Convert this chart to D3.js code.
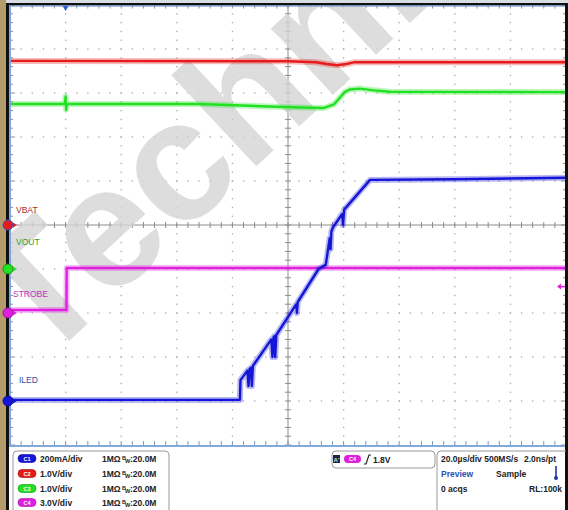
<!DOCTYPE html>
<html><head><meta charset="utf-8">
<script src="https://cdn.jsdelivr.net/npm/d3@7"></script>
<style>body{margin:0;background:#fff}svg{display:block}</style>
</head><body>
<svg id="c" width="568" height="510"></svg>
<script>
// ---------- DATA ----------
// time axis (µs), 20 µs/div, trigger at 0
const timeDomain = [-20, 180];
const divTicks = [-5, -4, -3, -2, -1, 0, 1, 2, 3, 4, 5];

// channel settings
const channelIds = ["C1", "C2", "C3", "C4"];
const channelLabels = ["ILED", "VBAT", "VOUT", "STROBE"];
const channelScaleText = ["200mA/div", "1.0V/div", "1.0V/div", "3.0V/div"];
const channelPerDiv = [200, 1, 1, 3];
const channelOffsetDiv = [-4, 0, -1, -2];
const channelImpedance = ["1MΩ", "1MΩ", "1MΩ", "1MΩ"];
const channelBandwidth = ["20.0M", "20.0M", "20.0M", "20.0M"];

// C1 ILED (mA)
const c1Time = [-20, 62.7, 62.9, 65.4, 65.8, 66.2, 66.7, 67.0, 67.4, 74.0, 74.4, 74.8, 75.1, 75.4, 75.8, 83.0, 83.2, 83.5, 91.0, 93.6, 95.0, 95.3, 95.6, 96.2, 99.5, 99.8, 100.2, 109.5, 140, 180];
const c1Value = [5, 5, 95, 138, 68, 146, 152, 68, 160, 280, 200, 290, 295, 200, 300, 440, 400, 450, 600, 620, 740, 690, 770, 790, 850, 800, 870, 1005, 1008, 1015];
// C2 VBAT (V)
const c2Time = [-20, 80, 90, 94, 97.5, 101, 104, 180];
const c2Value = [3.73, 3.72, 3.70, 3.66, 3.63, 3.66, 3.70, 3.70];
// C3 VOUT (V)
const c3Time = [-20, -0.3, 0, 0.2, 0.5, 48, 70, 85, 93, 96.5, 100.4, 102.2, 105.8, 111, 116.5, 180];
const c3Value = [3.75, 3.75, 3.92, 3.62, 3.75, 3.75, 3.70, 3.67, 3.66, 3.74, 4.02, 4.08, 4.10, 4.06, 4.03, 4.02];
// C4 STROBE (V)
const c4Time = [-20, 0.3, 0.4, 180];
const c4Value = [0.2, 0.2, 3.07, 3.07];

// trigger
const triggerLevel = 1.8;
const triggerChannel = 3; // index of C4
const triggerText = "1.8V";

// acquisition info
const acqLine1 = "20.0µs/div 500MS/s";
const acqLine1b = "2.0ns/pt";
const acqMode = "Preview";
const acqSample = "Sample";
const acqCount = "0 acqs";
const acqRL = "RL:100k";
const watermark = "Techni";

// ---------- STYLE ----------
const colors = ["#1515d8", "#e61c1c", "#22e022", "#e020e0"];
const darkColors = ["#0b0b9a", "#a01010", "#129012", "#a010a0"];
const labelColors = ["#3050a0", "#b02828", "#30a030", "#c030c0"];
const FONT = "'Liberation Sans Narrow','Liberation Sans',Arial,sans-serif";

const svg = d3.select("#c");
const L = 10, R = 566, T = 5, B = 445;
const x = d3.scaleLinear().domain(timeDomain).range([L, R]);
const yDiv = d3.scaleLinear().domain([-5, 5]).range([B, T]);

svg.append("defs").append("clipPath").attr("id", "plotclip")
  .append("rect").attr("x", L).attr("y", T).attr("width", R - L).attr("height", B - T);

// frame background
svg.append("rect").attr("width", 568).attr("height", 510).attr("fill", "#ffffff");
svg.append("rect").attr("x", 0).attr("y", 0).attr("width", 568).attr("height", 4).attr("fill", "#d8dde3");

// grid
const grid = svg.append("g");
const xMajor = d3.range(timeDomain[0], timeDomain[1] + 0.01, 20);
const xMinor = d3.range(timeDomain[0], timeDomain[1] + 0.01, 4);
const yMinor = d3.range(-5, 5.001, 0.2);
xMajor.forEach((t, i) => {
  if (i === 0 || i === xMajor.length - 1 || t === 80) return;
  yMinor.forEach(d => grid.append("rect").attr("x", x(t) - 0.6).attr("y", yDiv(d) - 0.6).attr("width", 1.3).attr("height", 1.3).attr("fill", "#a8a8a8"));
});
divTicks.forEach((d, i) => {
  if (i === 0 || i === divTicks.length - 1 || d === 0) return;
  xMinor.forEach(t => grid.append("rect").attr("x", x(t) - 0.6).attr("y", yDiv(d) - 0.6).attr("width", 1.3).attr("height", 1.3).attr("fill", "#a8a8a8"));
});

// watermark
svg.append("g").attr("clip-path", "url(#plotclip)")
  .append("text").attr("transform", "translate(40,368) rotate(-43)")
  .attr("font-family", "'Liberation Sans',Arial,sans-serif").attr("font-weight", "bold")
  .attr("font-size", 172).attr("fill", "#d4d4d4").attr("fill-opacity", 0.8).text(watermark);

// center axes
const cx = x(80), cy = yDiv(0);
grid.append("line").attr("x1", L).attr("x2", R).attr("y1", cy).attr("y2", cy).attr("stroke", "#8c8c8c").attr("stroke-width", 1);
grid.append("line").attr("x1", cx).attr("x2", cx).attr("y1", T).attr("y2", B).attr("stroke", "#8c8c8c").attr("stroke-width", 1);
xMinor.forEach(t => grid.append("line").attr("x1", x(t)).attr("x2", x(t)).attr("y1", cy - 3).attr("y2", cy + 3).attr("stroke", "#8c8c8c"));
yMinor.forEach(d => grid.append("line").attr("x1", cx - 3).attr("x2", cx + 3).attr("y1", yDiv(d)).attr("y2", yDiv(d)).attr("stroke", "#8c8c8c"));
// edge ticks
xMinor.forEach(t => {
  grid.append("line").attr("x1", x(t)).attr("x2", x(t)).attr("y1", T).attr("y2", T + 3.5).attr("stroke", "#8c8c8c");
  grid.append("line").attr("x1", x(t)).attr("x2", x(t)).attr("y1", B - 4).attr("y2", B).attr("stroke", "#7a98c0");
});
yMinor.forEach((d, i) => {
  const len = (i % 5 === 0) ? 5 : 3;
  grid.append("line").attr("x1", L).attr("x2", L + len).attr("y1", yDiv(d)).attr("y2", yDiv(d)).attr("stroke", "#8c8c8c");
  grid.append("line").attr("x1", R - len).attr("x2", R).attr("y1", yDiv(d)).attr("y2", yDiv(d)).attr("stroke", "#8c8c8c");
});

// traces
const series = [
  {t: c1Time, v: c1Value},
  {t: c2Time, v: c2Value},
  {t: c3Time, v: c3Value},
  {t: c4Time, v: c4Value}
];
const chY = (ci, v) => yDiv(v / channelPerDiv[ci] + channelOffsetDiv[ci]);
const traces = svg.append("g").attr("clip-path", "url(#plotclip)");
const drawOrder = [3, 2, 1, 0];
drawOrder.forEach(ci => {
  const pts = series[ci].t.map((t, i) => [t, series[ci].v[i]]);
  const line = d3.line().x(d => x(d[0])).y(d => chY(ci, d[1]));
  traces.append("path").attr("d", line(pts)).attr("fill", "none").attr("stroke", colors[ci]).attr("stroke-width", 6).attr("stroke-opacity", 0.3).attr("stroke-linejoin", "round");
  traces.append("path").attr("d", line(pts)).attr("fill", "none").attr("stroke", colors[ci]).attr("stroke-width", 2.4).attr("stroke-linejoin", "round");
});

// frame borders
svg.append("rect").attr("x", 0).attr("y", 0).attr("width", 6).attr("height", 510).attr("fill", "#b59c6c");
svg.append("rect").attr("x", 6).attr("y", 3).attr("width", 3).attr("height", 507).attr("fill", "#111");
svg.append("rect").attr("x", 6).attr("y", 3).attr("width", 562).attr("height", 2.5).attr("fill", "#111");
svg.append("rect").attr("x", 565).attr("y", 3).attr("width", 3).attr("height", 507).attr("fill", "#111");
svg.append("rect").attr("x", 9).attr("y", 5.5).attr("width", 2).attr("height", 441).attr("fill", "#7fa8dc");
svg.append("rect").attr("x", 9).attr("y", 5.5).attr("width", 556).attr("height", 1.2).attr("fill", "#7fa8dc");
svg.append("rect").attr("x", 9).attr("y", 445).attr("width", 556).attr("height", 2).attr("fill", "#7fa8dc");

// trigger position marker
const tx = x(0);
svg.append("path").attr("d", `M${tx - 3},6 L${tx + 3},6 L${tx},11 Z`).attr("fill", "#2a5fd0");
// trigger level marker (right)
const ty = chY(triggerChannel, triggerLevel);
svg.append("path").attr("d", `M${R - 9},${ty} L${R - 5},${ty - 3} L${R - 5},${ty + 3} Z`).attr("fill", colors[triggerChannel]);
svg.append("line").attr("x1", R - 5).attr("x2", R - 1).attr("y1", ty).attr("y2", ty).attr("stroke", colors[triggerChannel]).attr("stroke-width", 1.5);

// ground markers + labels
const labelDy = [-18, -12, -24, -16];
[1, 2, 3, 0].forEach(ci => {
  const gy = chY(ci, 0);
  svg.append("circle").attr("cx", 8).attr("cy", gy).attr("r", 5).attr("fill", colors[ci]).attr("stroke", ci === 1 ? "#3355cc" : darkColors[ci]).attr("stroke-width", 1);
  svg.append("path").attr("d", `M13,${gy - 2.5} L17,${gy} L13,${gy + 2.5} Z`).attr("fill", colors[ci]);
  svg.append("text").attr("x", ci === 0 ? 19 : (ci === 3 ? 13 : 16)).attr("y", gy + labelDy[ci])
    .attr("font-family", FONT).attr("font-size", 8.5).attr("fill", labelColors[ci]).text(channelLabels[ci]);
});

// ---------- bottom panel ----------
const panel = svg.append("g").attr("font-family", FONT).attr("font-weight", "bold").attr("font-size", 8.5).attr("fill", "#222");
panel.append("rect").attr("x", 13).attr("y", 451).attr("width", 156).attr("height", 70).attr("rx", 4).attr("fill", "none").attr("stroke", "#9a9a9a");
const rowY = [459, 474, 489, 503];
channelIds.forEach((id, ci) => {
  const yy = rowY[ci];
  panel.append("rect").attr("x", 18).attr("y", yy - 4.5).attr("width", 18).attr("height", 8).attr("rx", 4).attr("fill", colors[ci]).attr("stroke", darkColors[ci]).attr("stroke-width", 0.6);
  panel.append("text").attr("x", 27).attr("y", yy + 2).attr("text-anchor", "middle").attr("font-size", 5.5).attr("fill", "#fff").text(id);
  panel.append("text").attr("x", 102).attr("y", yy + 3).text(channelImpedance[ci]);
  panel.append("text").attr("x", 40).attr("y", yy + 3).text(channelScaleText[ci]);
  panel.append("text").attr("x", 122).attr("y", yy + 0.5).attr("font-size", 5.5).text("B");
  panel.append("text").attr("x", 125).attr("y", yy + 4).attr("font-size", 5.5).text("W");
  panel.append("text").attr("x", 130).attr("y", yy + 3).text(":" + channelBandwidth[ci]);
});

// trigger box
panel.append("rect").attr("x", 332).attr("y", 451).attr("width", 103).attr("height", 17).attr("rx", 4).attr("fill", "none").attr("stroke", "#9a9a9a");
panel.append("rect").attr("x", 333).attr("y", 455).attr("width", 7).attr("height", 8).attr("fill", "#1a2a3a");
panel.append("text").attr("x", 336.5).attr("y", 461.5).attr("text-anchor", "middle").attr("font-size", 6).attr("fill", "#cde").text("A'");
panel.append("rect").attr("x", 344).attr("y", 455).attr("width", 17).attr("height", 8).attr("rx", 4).attr("fill", colors[triggerChannel]);
panel.append("text").attr("x", 352.5).attr("y", 461.3).attr("text-anchor", "middle").attr("font-size", 5.5).attr("fill", "#fff").text(channelIds[triggerChannel]);
panel.append("path").attr("d", "M364,464 L366,464 L369,455 L371,455").attr("fill", "none").attr("stroke", "#222").attr("stroke-width", 1.2);
panel.append("text").attr("x", 373).attr("y", 462.5).text(triggerText);

// acquisition box
panel.append("path").attr("d", "M437,515 L437,455 Q437,451 441,451 L566,451").attr("fill", "none").attr("stroke", "#9a9a9a");
panel.append("text").attr("x", 441).attr("y", 462).text(acqLine1);
panel.append("text").attr("x", 524).attr("y", 462).text(acqLine1b);
panel.append("text").attr("x", 441).attr("y", 477).attr("fill", "#2a4fb8").text(acqMode);
panel.append("text").attr("x", 496).attr("y", 477).text(acqSample);
panel.append("text").attr("x", 441).attr("y", 492).text(acqCount);
panel.append("text").attr("x", 529).attr("y", 492).text(acqRL);
panel.append("line").attr("x1", 556).attr("x2", 556).attr("y1", 466).attr("y2", 478).attr("stroke", "#1a3aa0").attr("stroke-width", 1.6);
panel.append("circle").attr("cx", 556).attr("cy", 478).attr("r", 2).attr("fill", "#1a3aa0");
</script>
</body></html>
